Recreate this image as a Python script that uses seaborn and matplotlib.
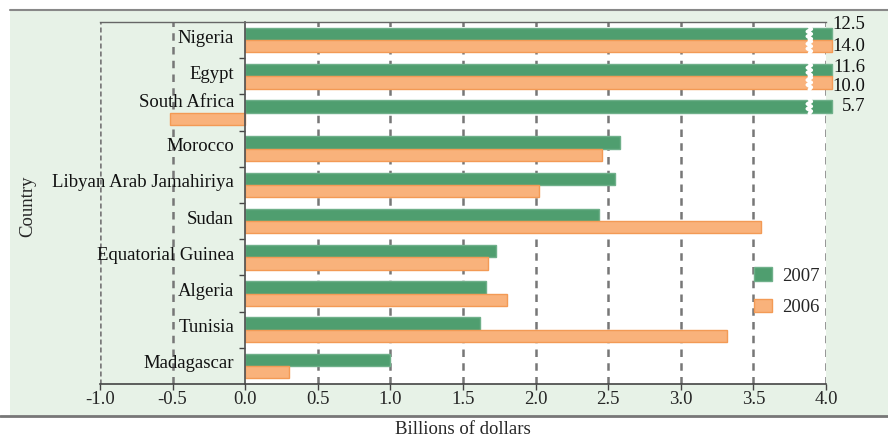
import matplotlib
matplotlib.use("Agg")
import matplotlib.pyplot as plt
import matplotlib.patches as mpatches
import matplotlib.transforms as mtransforms
import numpy as np
import pandas as pd
import seaborn as sns

countries = ["Nigeria", "Egypt", "South Africa", "Morocco", "Libyan Arab Jamahiriya",
             "Sudan", "Equatorial Guinea", "Algeria", "Tunisia", "Madagascar"]
values_2007 = [12.5, 11.6, 5.7, 2.58, 2.55, 2.44, 1.73, 1.66, 1.62, 1.00]
values_2006 = [14.0, 10.0, -0.52, 2.46, 2.02, 3.55, 1.67, 1.80, 3.32, 0.30]
years = ["2007", "2006"]

AXIS_MAX = 4.04  # bars beyond the axis are cut here and marked with a break
BG = "#e7f2e7"
GREEN = "#4f9e6f"
ORANGE = "#f9b27b"
FS = 13.5

# small vertical nudges (in points) for name labels and cut-bar value labels
name_nudge = {"South Africa": 5.5}
value_nudge = {("2007", "Nigeria"): 7, ("2007", "Egypt"): 2, ("2006", "Egypt"): -3}

sns.set_theme(style="white")
plt.rcParams["font.family"] = ["Liberation Serif", "DejaVu Serif"]

df = pd.DataFrame({
    "country": countries * 2,
    "year": [years[0]] * len(countries) + [years[1]] * len(countries),
    "value": values_2007 + values_2006,
})
df["shown"] = np.minimum(df["value"], AXIS_MAX)

fig = plt.figure(figsize=(8.88, 4.38), dpi=100, facecolor="white")
# light green panel behind the chart
fig.patches.append(mpatches.Rectangle((10 / 888, 22 / 438), 1 - 10 / 888, 406 / 438,
                                      transform=fig.transFigure, facecolor=BG,
                                      edgecolor="none", zorder=-10))
fig.lines.append(plt.Line2D([10 / 888, 1], [428 / 438, 428 / 438], transform=fig.transFigure,
                            color="#888888", lw=1.5))
fig.lines.append(plt.Line2D([0, 1], [22 / 438, 22 / 438], transform=fig.transFigure,
                            color="#777777", lw=2))

ax = fig.add_axes([100 / 888, 54 / 438, 726 / 888, 362 / 438])
ax.set_facecolor(BG)
ax.axvspan(0, 4.0, color="white", zorder=0)

sns.barplot(data=df, x="shown", y="country", hue="year", hue_order=years,
            palette=[GREEN, ORANGE], saturation=1, width=0.68, order=countries,
            ax=ax, zorder=2, legend=True)

edges = {"2007": "#6fb08a", "2006": "#f39a55"}
for cont, yr in zip(ax.containers, years):
    for bar in cont:
        bar.set_edgecolor(edges[yr])
        bar.set_linewidth(1)
        bar.set_clip_on(False)

# break marks and value labels for cut bars
for cont, yr, vals in zip(ax.containers, years, [values_2007, values_2006]):
    for bar, v, c in zip(cont, vals, countries):
        if v > AXIS_MAX:
            y0 = bar.get_y()
            h = bar.get_height()
            ys = np.linspace(y0 - 0.03, y0 + h + 0.03, 7)
            xs = 3.885 + np.array([0, 0.014, -0.014, 0.014, -0.014, 0.014, 0])
            ax.plot(xs, ys, color="white", lw=2.6, zorder=3, clip_on=False)
            off = mtransforms.offset_copy(ax.transData, fig=fig, x=0,
                                          y=value_nudge.get((yr, c), 0), units="points")
            ax.text(4.27, y0 + h / 2, f"{v:.1f}", ha="right", va="center",
                    fontsize=FS, color="#111111", clip_on=False, transform=off)

ax.set_xlim(-1.0, 4.0)
ax.set_ylim(len(countries) - 0.5, -0.5)
xt = np.arange(-1.0, 4.01, 0.5)
ax.set_xticks(xt)
ax.set_xticklabels([f"{t:.1f}" for t in xt], fontsize=FS)
for t in xt[1:]:
    if abs(t) > 1e-9:
        ax.axvline(t, color="#777777", lw=1.8, ls=(0, (3, 2.5)), zorder=1)
ax.axvline(-1.0, color="#7a7a7a", lw=1.8, ls=(0, (2, 1.2)), zorder=1)

# y axis sits at x = 0 with the names just left of it
ax.spines["left"].set_position(("data", 0))
ax.spines["left"].set_color("#555555")
ax.spines["right"].set_visible(False)
ax.spines["top"].set_color("#666666")
ax.spines["top"].set_linewidth(1)
ax.spines["bottom"].set_color("#444444")
ax.spines["bottom"].set_linewidth(1.2)
ax.set_yticks(range(len(countries)))
ax.set_yticklabels([])
ax.set_yticks(np.arange(0.5, len(countries) - 1, 1), minor=True)
ax.tick_params(axis="y", which="major", length=0)
ax.tick_params(axis="y", which="minor", length=4, width=1, color="#444444", left=True)
ax.tick_params(axis="x", length=4, width=1, color="#444444", bottom=True, pad=1)

for i, c in enumerate(countries):
    off = mtransforms.offset_copy(ax.transData, fig=fig, x=-8,
                                  y=1.5 + name_nudge.get(c, 0), units="points")
    ax.text(0, i, c, ha="right", va="center", fontsize=FS, transform=off,
            color="#111111", zorder=4)

ax.set_xlabel("")
ax.set_ylabel("")
fig.text(463 / 888, 1 - 430 / 438, "Billions of dollars", ha="center", va="center", fontsize=FS)
fig.text(28 / 888, 1 - 206 / 438, "Country", rotation=90, ha="center", va="center", fontsize=FS)

leg = ax.legend(loc="center left", bbox_to_anchor=((745 - 100) / 726, 0.255), frameon=False,
                fontsize=FS, handlelength=0.95, handleheight=0.75, labelspacing=0.75,
                borderpad=0, handletextpad=0.55)
for h, yr in zip(leg.legend_handles, years):
    h.set_edgecolor(edges[yr])

fig.savefig("out.png", dpi=100, facecolor="white")
